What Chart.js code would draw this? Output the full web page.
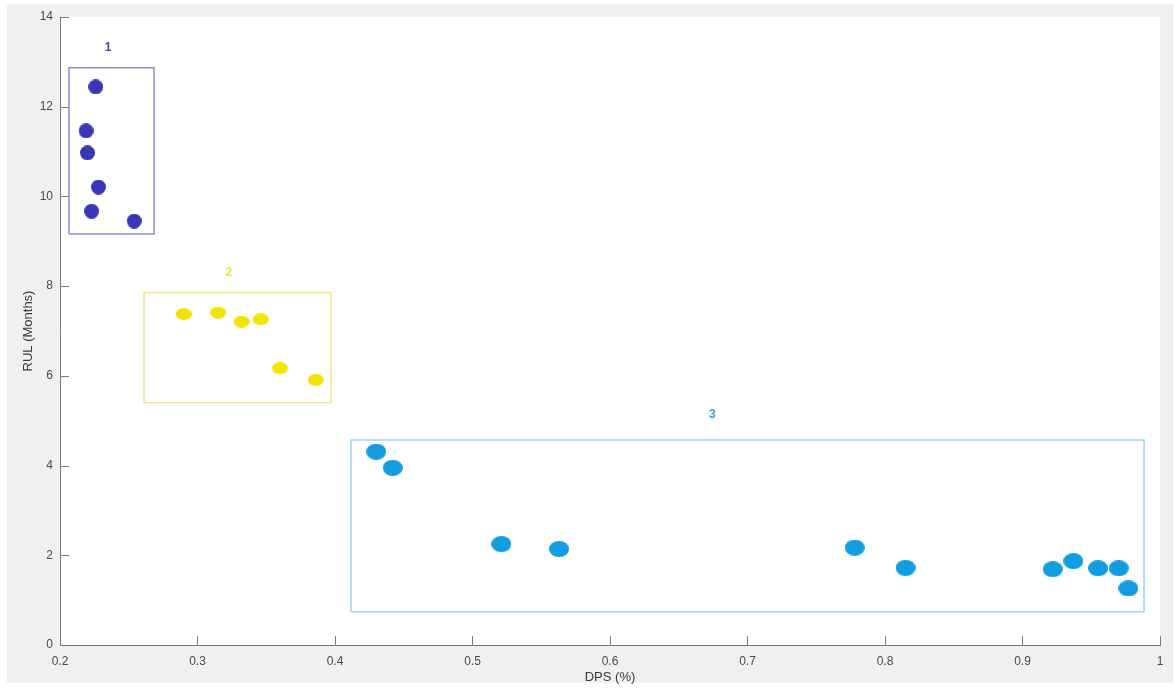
<!DOCTYPE html>
<html>
<head>
<meta charset="utf-8">
<script src="https://cdn.jsdelivr.net/npm/chart.js@4/dist/chart.umd.min.js"></script>
<style>
  html, body { margin: 0; padding: 0; background: #fff; }
  #wrap { width: 1175px; height: 688px; position: relative; }
</style>
</head>
<body>
<div id="wrap"><canvas id="clusters"></canvas></div>
<script>
// cluster 1
const c1x = [0.226, 0.219, 0.220, 0.228, 0.223, 0.254];
const c1y = [12.44, 11.46, 10.97, 10.21, 9.67, 9.45];
// cluster 2
const c2x = [0.290, 0.315, 0.332, 0.346, 0.360, 0.386];
const c2y = [7.38, 7.41, 7.21, 7.26, 6.17, 5.91];
// cluster 3
const c3x = [0.430, 0.442, 0.521, 0.563, 0.778, 0.815, 0.922, 0.937, 0.955, 0.970, 0.977];
const c3y = [4.31, 3.95, 2.25, 2.14, 2.17, 1.72, 1.69, 1.87, 1.71, 1.71, 1.26];

// boxes round clusters: [xmin, xmax, ymin, ymax]
const box1 = [0.2065, 0.2684, 9.16, 12.87];
const box2 = [0.2611, 0.3971, 5.40, 7.86];
const box3 = [0.4116, 0.9884, 0.74, 4.57];

// cluster labels
const labelText = ['1', '2', '3'];
const labelX = [0.2349, 0.3227, 0.6744];
const labelY = [13.31, 8.30, 5.13];
const labelColor = ['#4646a6', '#efe34a', '#2c9cc9'];

const xTicks = [0.2, 0.3, 0.4, 0.5, 0.6, 0.7, 0.8, 0.9, 1];
const yTicks = [0, 2, 4, 6, 8, 10, 12, 14];

function pts(xs, ys) {
    return xs.map((x, i) => ({x: x, y: ys[i]}));
}

function rect(b) {
    return [
        {x: b[0], y: b[2]}, {x: b[1], y: b[2]},
        {x: b[1], y: b[3]}, {x: b[0], y: b[3]},
        {x: b[0], y: b[2]}
    ];
}

function ellipse(w, h, color) {
    const c = document.createElement('canvas');
    c.width = w;
    c.height = h;
    const g = c.getContext('2d');
    g.fillStyle = color;
    g.beginPath();
    g.ellipse(w / 2, h / 2, w / 2, h / 2, 0, 0, Math.PI * 2);
    g.fill();
    return c;
}

const matlabLook = {
    id: 'matlabLook',
    beforeDraw(chart) {
        const {ctx, chartArea: a} = chart;
        ctx.save();
        ctx.fillStyle = '#ffffff';
        ctx.fillRect(0, 0, chart.width, chart.height);
        ctx.fillStyle = '#f0f0f0';
        ctx.fillRect(7, 4, 1166, 679);
        ctx.fillStyle = '#ffffff';
        ctx.fillRect(a.left, a.top, a.right - a.left, a.bottom - a.top);
        ctx.restore();
    },
    afterDraw(chart) {
        const {ctx, chartArea: a, scales} = chart;
        ctx.save();
        ctx.strokeStyle = '#7a7a7a';
        ctx.lineWidth = 1;
        ctx.beginPath();
        xTicks.forEach(v => {
            const px = Math.round(scales.x.getPixelForValue(v)) + 0.5;
            ctx.moveTo(px, a.bottom);
            ctx.lineTo(px, a.bottom - 9);
        });
        yTicks.forEach(v => {
            const py = Math.round(scales.y.getPixelForValue(v)) + 0.5;
            ctx.moveTo(a.left, py);
            ctx.lineTo(a.left + 9, py);
        });
        ctx.stroke();

        ctx.font = 'bold 12px "Liberation Sans", Arial, sans-serif';
        ctx.textAlign = 'center';
        ctx.textBaseline = 'middle';
        labelText.forEach((t, i) => {
            ctx.fillStyle = labelColor[i];
            ctx.fillText(t, scales.x.getPixelForValue(labelX[i]), scales.y.getPixelForValue(labelY[i]));
        });
        ctx.restore();
    }
};

const ctx = document.getElementById('clusters');

new Chart(ctx, {
    type: 'scatter',
    data: {
        datasets: [
            {
                label: 'Cluster 1',
                data: pts(c1x, c1y),
                pointStyle: ellipse(15, 15, '#3838b6'),
                order: 0
            },
            {
                label: 'Cluster 2',
                data: pts(c2x, c2y),
                pointStyle: ellipse(16, 12, '#f3e400'),
                order: 0
            },
            {
                label: 'Cluster 3',
                data: pts(c3x, c3y),
                pointStyle: ellipse(20, 16, '#129de0'),
                order: 0
            },
            {
                label: 'Box 1',
                data: rect(box1),
                showLine: true,
                borderColor: '#8d8dd2',
                borderWidth: 1.5,
                pointRadius: 0,
                order: 1
            },
            {
                label: 'Box 2',
                data: rect(box2),
                showLine: true,
                borderColor: '#f1e78c',
                borderWidth: 1.5,
                pointRadius: 0,
                order: 1
            },
            {
                label: 'Box 3',
                data: rect(box3),
                showLine: true,
                borderColor: '#9ed6e8',
                borderWidth: 1.5,
                pointRadius: 0,
                order: 1
            }
        ]
    },
    options: {
        responsive: true,
        maintainAspectRatio: false,
        animation: false,
        layout: {
            padding: {top: 17, right: 15, left: 0, bottom: 0}
        },
        plugins: {
            legend: {display: false},
            tooltip: {enabled: false}
        },
        scales: {
            x: {
                type: 'linear',
                min: 0.2,
                max: 1,
                afterFit: s => { s.height = 43; },
                afterBuildTicks: s => { s.ticks = xTicks.map(v => ({value: v})); },
                grid: {display: true, drawOnChartArea: false, drawTicks: false, color: 'rgba(0,0,0,0)'},
                border: {display: true, color: '#7a7a7a', width: 1},
                ticks: {
                    padding: 9,
                    color: '#4a4a4a',
                    maxRotation: 0,
                    font: {family: '"Liberation Sans", Arial, sans-serif', size: 12},
                    callback: v => String(Number(v.toFixed(1)))
                },
                title: {
                    display: true,
                    text: 'DPS (%)',
                    color: '#3a3a3a',
                    padding: {top: 0, bottom: 3},
                    font: {family: '"Liberation Sans", Arial, sans-serif', size: 13}
                }
            },
            y: {
                type: 'linear',
                min: 0,
                max: 14,
                afterFit: s => { s.width = 60; },
                afterBuildTicks: s => { s.ticks = yTicks.map(v => ({value: v})); },
                grid: {display: true, drawOnChartArea: false, drawTicks: false, color: 'rgba(0,0,0,0)'},
                border: {display: true, color: '#7a7a7a', width: 1},
                ticks: {
                    padding: 7,
                    color: '#4a4a4a',
                    font: {family: '"Liberation Sans", Arial, sans-serif', size: 12}
                },
                title: {
                    display: true,
                    text: 'RUL (Months)',
                    color: '#3a3a3a',
                    padding: {top: 21, bottom: 0},
                    font: {family: '"Liberation Sans", Arial, sans-serif', size: 13}
                }
            }
        }
    },
    plugins: [matlabLook]
});
</script>
</body>
</html>
